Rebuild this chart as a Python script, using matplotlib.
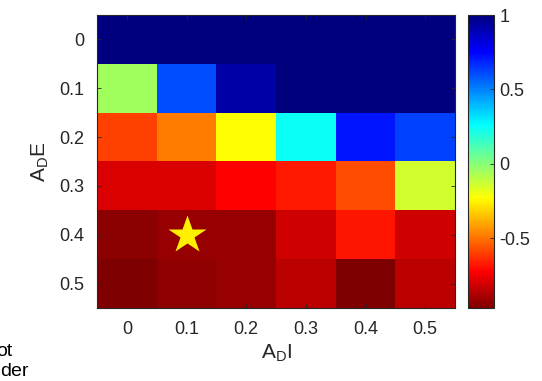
import numpy as np
import matplotlib
matplotlib.use('Agg')
import matplotlib.pyplot as plt
from matplotlib.colors import LinearSegmentedColormap

plt.rcParams['font.family'] = ['Liberation Sans', 'DejaVu Sans']
plt.rcParams['mathtext.default'] = 'regular'

# data: rows = A_D E, columns = A_D I
ade = [0, 0.1, 0.2, 0.3, 0.4, 0.5]
adi = [0, 0.1, 0.2, 0.3, 0.4, 0.5]
row_00 = [1.00, 1.00, 1.00, 1.00, 1.00, 1.00]
row_01 = [-0.05, 0.60, 0.92, 1.00, 1.00, 1.00]
row_02 = [-0.60, -0.48, -0.23, 0.24, 0.71, 0.63]
row_03 = [-0.79, -0.79, -0.72, -0.67, -0.57, -0.14]
row_04 = [-0.945, -0.92, -0.92, -0.81, -0.68, -0.81]
row_05 = [-0.97, -0.935, -0.92, -0.85, -0.97, -0.85]
best_adi = 0.1
best_ade = 0.4

vals = np.array([row_00, row_01, row_02, row_03, row_04, row_05])

# MATLAB style jet, reversed (high = dark blue)
matlab_jet = LinearSegmentedColormap.from_list('mjet', [
    (0.0, (0, 0, 0.5)), (0.125, (0, 0, 1)), (0.375, (0, 1, 1)),
    (0.625, (1, 1, 0)), (0.875, (1, 0, 0)), (1.0, (0.5, 0, 0))], N=256)
cmap = matlab_jet.reversed()

fig = plt.figure(figsize=(5.42, 3.81), dpi=100)
ax = fig.add_axes([0.179, 0.1916, 0.6605, 0.769])
cax = fig.add_axes([0.8635, 0.1916, 0.048, 0.769])

im = ax.imshow(vals, cmap=cmap, vmin=vals.min(), vmax=vals.max(),
               aspect='auto', interpolation='nearest')
ax.plot(adi.index(best_adi), ade.index(best_ade), marker='*', ms=29,
        color=(1, 0.94, 0), mec='none')

edge = (0.15, 0.15, 0.15)
txt = (0.15, 0.15, 0.15)
ax.set_xticks(range(len(adi)))
ax.set_xticklabels([f'{v:g}' for v in adi])
ax.set_yticks(range(len(ade)))
ax.set_yticklabels([f'{v:g}' for v in ade])
ax.tick_params(direction='in', length=3, width=0.6, color=edge, labelcolor=txt,
               labelsize=13, top=True, right=True, pad=9)
for s in ax.spines.values():
    s.set_color(edge)
    s.set_linewidth(0.8)
ax.set_xlabel('A$_D$I', fontsize=15, color=txt, labelpad=4)
ax.set_ylabel('A$_D$E', fontsize=15, color=txt, labelpad=6)

cb = fig.colorbar(im, cax=cax, ticks=[-0.5, 0, 0.5, 1])
cb.ax.set_yticklabels(['-0.5', '0', '0.5', '1'])
cb.ax.tick_params(direction='in', length=3, width=0.6, color=edge, labelcolor=txt,
                  labelsize=13, pad=4)
cb.outline.set_edgecolor(edge)
cb.outline.set_linewidth(0.8)

# leftover text from the original page, cut at the left edge
fig.text(12 / 542, 1 - 351 / 381, 'ot', ha='right', va='center', fontsize=14)
fig.text(29 / 542, 1 - 372 / 381, 'der', ha='right', va='center', fontsize=14)

fig.savefig('out.png', dpi=100)
